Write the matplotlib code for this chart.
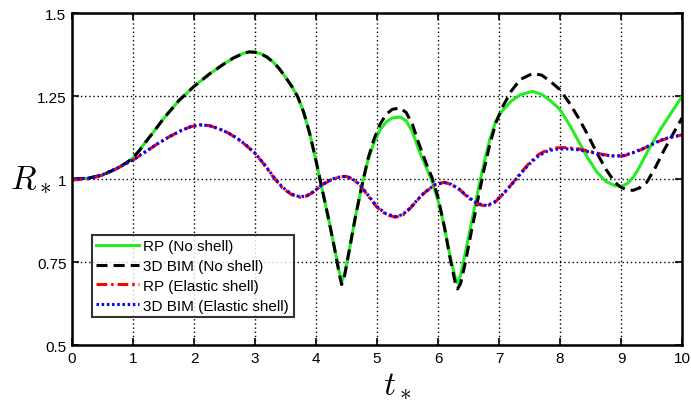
import numpy as np
import matplotlib
matplotlib.use('Agg')
import matplotlib.pyplot as plt

plt.rcParams['font.family'] = ['Liberation Sans', 'DejaVu Sans']
plt.rcParams['mathtext.fontset'] = 'cm'

# RP / 3D BIM, no shell
t_noshell = [0, 0.25, 0.5, 0.75, 0.9, 1.0, 1.1, 1.2, 1.33, 1.5, 1.75, 2.0, 2.25, 2.5,
             2.65, 2.8, 2.9, 3.0, 3.1, 3.2, 3.3, 3.4, 3.5, 3.6, 3.7, 3.8, 3.9, 4.0,
             4.1, 4.2, 4.3, 4.38, 4.42, 4.47, 4.55, 4.65, 4.75, 4.85, 4.95, 5.05,
             5.15, 5.25, 5.38, 5.48, 5.58, 5.68, 5.8, 5.9, 6.0, 6.1, 6.2, 6.28, 6.32,
             6.37, 6.45, 6.55, 6.65, 6.75, 6.85, 6.95, 7.05, 7.2, 7.35, 7.55, 7.7,
             7.85, 8.0, 8.15, 8.3, 8.45, 8.6, 8.75, 8.9, 9.0, 9.1, 9.2, 9.3, 9.42,
             9.55, 9.7, 9.85, 10.0]
rp_noshell = [1.0, 1.002, 1.012, 1.033, 1.05, 1.064, 1.085, 1.11, 1.14, 1.182, 1.236,
              1.279, 1.316, 1.348, 1.365, 1.378, 1.383, 1.382, 1.377, 1.367, 1.352,
              1.332, 1.307, 1.28, 1.248, 1.2, 1.135, 1.055, 0.97, 0.885, 0.795, 0.722,
              0.69, 0.715, 0.79, 0.89, 0.978, 1.055, 1.11, 1.148, 1.172, 1.184, 1.187,
              1.175, 1.143, 1.09, 1.038, 0.995, 0.935, 0.86, 0.765, 0.705, 0.687,
              0.71, 0.78, 0.87, 0.96, 1.045, 1.12, 1.175, 1.205, 1.235, 1.254, 1.264,
              1.255, 1.235, 1.209, 1.165, 1.115, 1.065, 1.022, 0.993, 0.98, 0.978,
              0.986, 1.005, 1.035, 1.078, 1.12, 1.165, 1.207, 1.249]
bim_noshell = [1.0, 1.002, 1.012, 1.033, 1.05, 1.064, 1.085, 1.11, 1.14, 1.182, 1.236,
               1.279, 1.316, 1.348, 1.365, 1.378, 1.383, 1.382, 1.377, 1.367, 1.352,
               1.332, 1.307, 1.28, 1.248, 1.2, 1.135, 1.055, 0.97, 0.885, 0.795, 0.715,
               0.682, 0.71, 0.79, 0.89, 0.978, 1.06, 1.12, 1.165, 1.195, 1.21, 1.214,
               1.2, 1.165, 1.11, 1.05, 1.005, 0.945, 0.86, 0.76, 0.69, 0.669, 0.685,
               0.75, 0.845, 0.935, 1.025, 1.105, 1.17, 1.215, 1.265, 1.3, 1.318, 1.313,
               1.293, 1.269, 1.23, 1.185, 1.135, 1.08, 1.03, 0.99, 0.975, 0.967, 0.966,
               0.973, 0.99, 1.03, 1.085, 1.135, 1.184]

# RP / 3D BIM, elastic shell
t_shell = [0, 0.3, 0.5, 0.75, 1.0, 1.2, 1.4, 1.6, 1.8, 1.95, 2.1, 2.25, 2.4, 2.55,
           2.7, 2.85, 3.0, 3.15, 3.3, 3.45, 3.6, 3.74, 3.85, 3.96, 4.1, 4.25, 4.4,
           4.5, 4.6, 4.72, 4.85, 5.0, 5.15, 5.3, 5.42, 5.54, 5.66, 5.78, 5.95, 6.1,
           6.22, 6.36, 6.5, 6.65, 6.8, 6.92, 7.05, 7.2, 7.35, 7.5, 7.65, 7.8, 7.95,
           8.11, 8.3, 8.5, 8.7, 8.9, 9.05, 9.2, 9.35, 9.5, 9.65, 9.8, 10.0]
rp_shell = [0.997, 1.001, 1.012, 1.033, 1.057, 1.081, 1.106, 1.128, 1.147, 1.158,
            1.163, 1.161, 1.152, 1.14, 1.123, 1.102, 1.077, 1.044, 1.006, 0.973,
            0.953, 0.945, 0.949, 0.961, 0.982, 0.998, 1.007, 1.008, 1.0, 0.982,
            0.95, 0.915, 0.893, 0.885, 0.891, 0.911, 0.936, 0.959, 0.983, 0.99,
            0.984, 0.967, 0.943, 0.924, 0.918, 0.928, 0.951, 0.983, 1.017, 1.049,
            1.074, 1.089, 1.094, 1.095, 1.091, 1.083, 1.074, 1.069, 1.07, 1.079,
            1.09, 1.103, 1.116, 1.125, 1.133]
bim_shell = [1.0, 1.003, 1.013, 1.034, 1.058, 1.082, 1.106, 1.128, 1.147, 1.158,
             1.163, 1.161, 1.152, 1.14, 1.124, 1.103, 1.078, 1.045, 1.008, 0.975,
             0.955, 0.946, 0.95, 0.962, 0.983, 0.999, 1.007, 1.008, 1.0, 0.983,
             0.952, 0.917, 0.895, 0.887, 0.893, 0.912, 0.937, 0.96, 0.983, 0.99,
             0.984, 0.968, 0.945, 0.926, 0.92, 0.93, 0.952, 0.982, 1.015, 1.046,
             1.07, 1.085, 1.09, 1.091, 1.088, 1.081, 1.073, 1.069, 1.071, 1.08,
             1.091, 1.104, 1.117, 1.126, 1.132]

xticks = list(range(0, 11))
yticks = [0.5, 0.75, 1.0, 1.25, 1.5]
yticklabels = ['0.5', '0.75', '1', '1.25', '1.5']

fig = plt.figure(figsize=(6.91, 4.02), dpi=100)
ax = fig.add_axes([0.1042, 0.1393, 0.8828, 0.8257])

ax.plot(t_noshell, rp_noshell, color='#22ee22', lw=2.2, ls='-', label='RP (No shell)')
ax.plot(t_noshell, bim_noshell, color='black', lw=2.2, ls=(0, (3.6, 2)), label='3D BIM (No shell)')
ax.plot(t_shell, rp_shell, color='red', lw=2.2, ls=(0, (3.5, 1.3, 0.8, 1.3)), label='RP (Elastic shell)')
ax.plot(t_shell, bim_shell, color='blue', lw=2.2, ls=(0, (0.8, 0.9)), label='3D BIM (Elastic shell)')

ax.set_xlim(0, 10)
ax.set_ylim(0.5, 1.5)
ax.set_xticks(xticks)
ax.set_yticks(yticks)
ax.set_yticklabels(yticklabels)
ax.tick_params(direction='in', top=True, right=True, labelsize=11, length=5, width=1.2, pad=4)
ax.grid(True, color='black', ls=(0, (1, 2)), lw=1)
for s in ax.spines.values():
    s.set_linewidth(1.8)

ax.set_xlabel(r'$t_*$', fontsize=24, va='center')
ax.xaxis.set_label_coords(0.533, -0.12)
ax.set_ylabel(r'$R_*$', fontsize=24, rotation=0, va='center', ha='center')
ax.yaxis.set_label_coords(-0.068, 0.5)

leg = ax.legend(loc='lower left', bbox_to_anchor=(0.032, 0.084), fontsize=11,
                frameon=True, fancybox=False, handlelength=2.8, handletextpad=0.3,
                borderpad=0.3, labelspacing=0.38, borderaxespad=0)
leg.get_frame().set_edgecolor('black')
leg.get_frame().set_linewidth(1.5)

fig.savefig('out.png', dpi=100)
